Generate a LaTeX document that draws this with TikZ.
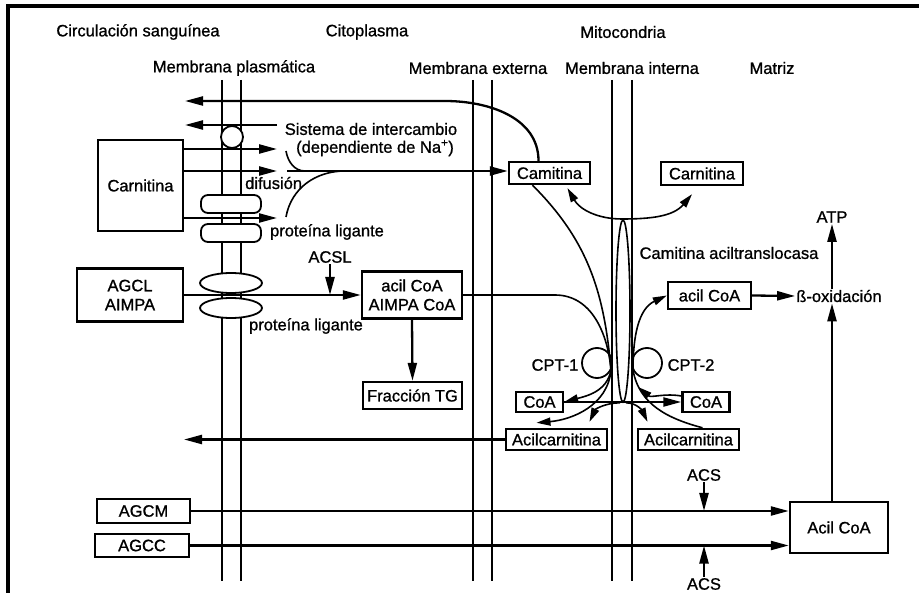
\documentclass[tikz,border=0pt]{standalone}
\usepackage{fontspec}
\setmainfont{Liberation Sans}
\usetikzlibrary{arrows.meta,shapes.geometric}
\newcommand{\figfont}{\fontsize{16.5}{19}\selectfont\addfontfeature{FakeBold=1}}

\begin{document}
\begin{tikzpicture}[x=1pt,y=-1pt,
  every node/.style={font=\figfont,inner sep=1pt},
  box/.style={draw,line width=2.4pt,fill=white,inner sep=0pt,align=center},
  mem/.style={line width=2.8pt},
  flujo/.style={line width=2.3pt,-{Triangle[length=18pt,width=9pt]}},
  fino/.style={line width=1.6pt},
  finoflecha/.style={fino,-{Triangle[length=14pt,width=8pt]}},
  finodoble/.style={fino,{Triangle[length=14pt,width=8pt]}-{Triangle[length=14pt,width=8pt]}},
  prot/.style={draw,line width=1.8pt,fill=white,rounded corners=7pt,minimum width=60pt,minimum height=18pt,inner sep=0pt},
  lig/.style={draw,ellipse,line width=1.8pt,fill=white,minimum width=62pt,minimum height=20pt,inner sep=0pt}]

  \useasboundingbox (0,0) rectangle (919,593);
  \draw[line width=3.2pt] (8,593) -- (8,6) -- (919,6);

  % compartments and membranes
  \node (circ) at (138,32) {Circulación sanguínea};
  \node (cito) at (367,32) {Citoplasma};
  \node (mito) at (623,32) {Mitocondria};
  \node (mplas) at (234,68) {Membrana plasmática};
  \node (mext) at (478,68) {Membrana externa};
  \node (mint) at (632,68) {Membrana interna};
  \node (matr) at (772,68) {Matriz};

  \foreach \x in {222,241,473,492,612,632}
    \draw[mem] (\x,80) -- (\x,581);

  % transporters
  \node[draw,circle,line width=1.8pt,fill=white,minimum size=22pt,inner sep=0pt] (exch) at (232,137) {};
  \node[prot] (pl1) at (231,204) {};
  \node[prot] (pl2) at (231,233) {};
  \node[lig] (lig1) at (231,283) {};
  \node[lig] (lig2) at (231,308) {};
  \node[draw,circle,line width=1.8pt,minimum size=30pt,inner sep=0pt] (cpt1) at (597,363) {};
  \node[draw,circle,line width=1.8pt,minimum size=30pt,inner sep=0pt] (cpt2) at (647,363) {};
  \node[draw,ellipse,line width=1.6pt,minimum width=14pt,minimum height=182pt,inner sep=0pt] (transl) at (623,311) {};

  % labels
  \node (sist) at (371,129) {Sistema de intercambio};
  \node (dep) at (375,148) {(dependiente de Na\textsuperscript{+})};
  \node[anchor=west] (difu) at (244,183) {difusión};
  \node (lig1t) at (327,232) {proteína ligante};
  \node (lig2t) at (306,326) {proteína ligante};
  \node (acsl) at (330,257) {ACSL};
  \node (translt) at (729,253) {Camitina aciltranslocasa};
  \node (atp) at (832,217) {ATP};
  \node (boxi) at (839,296) {ß-oxidación};
  \node (cpt1t) at (555,365) {CPT-1};
  \node (cpt2t) at (691,365) {CPT-2};
  \node (acs1) at (704,475) {ACS};
  \node (acs2) at (704,584) {ACS};

  % boxes
  \node[box,minimum width=85pt,minimum height=91pt] (carnS) at (140.5,185.5) {Carnitina};
  \node[box,minimum width=106pt,minimum height=53pt] (agcl) at (130,295) {AGCL\\AIMPA};
  \node[box,minimum width=100pt,minimum height=47pt] (acil) at (412,295) {acil CoA\\AIMPA CoA};
  \node[box,minimum width=99pt,minimum height=27pt] (tg) at (412.5,395.5) {Fracción TG};
  \node[box,minimum width=81pt,minimum height=22pt] (camE) at (549.5,173) {Camitina};
  \node[box,minimum width=82pt,minimum height=23pt] (carnM) at (702,173.5) {Carnitina};
  \node[box,minimum width=83pt,minimum height=27pt] (acilM) at (709.5,295.5) {acil CoA};
  \node[box,minimum width=47pt,minimum height=20pt] (coaL) at (539.5,402) {CoA};
  \node[box,minimum width=47pt,minimum height=20pt] (coaR) at (706,402) {CoA};
  \node[box,minimum width=101pt,minimum height=21pt] (acarL) at (556.5,439.5) {Acilcarnitina};
  \node[box,minimum width=101pt,minimum height=21pt] (acarR) at (688.5,439.5) {Acilcarnitina};
  \node[box,minimum width=93pt,minimum height=24pt] (agcm) at (143.5,511) {AGCM};
  \node[box,minimum width=94pt,minimum height=23pt] (agcc) at (142,545.5) {AGCC};
  \node[box,minimum width=98pt,minimum height=51pt] (acilC) at (839,527.5) {Acil CoA};

  \coordinate (outA) at (185,101);
  \coordinate (outB) at (185,125);
  \coordinate (outC) at (184,439.5);
  \coordinate (sisE) at (277,125);
  \coordinate (mrg) at (287,171);
  \coordinate (J1) at (611,370);
  \coordinate (J2) at (633,370);

  % carnitine in and out of the cell
  \draw[flujo] ([xshift=-11pt]camE.north) to[out=90,in=0] (445,101) -- (outA);
  \draw[flujo] (sisE) -- (outB);
  \foreach \y in {149,171,218}
    \draw[flujo] (carnS.east |- 0,\y) -- (277,\y);
  \draw[fino] (286,151) to[out=-80,in=180] (305,171);
  \draw[fino] (286,217) to[out=80,in=180] (345,171);
  \draw[flujo] (mrg) -- (mrg -| camE.west);

  % long chain fatty acids
  \draw[flujo] (agcl.east) -- (acil.west);
  \draw[flujo] (acsl.south) -- (acsl.south |- acil.west);
  \draw[flujo] (acil.south) -- (tg.north);
  \draw[fino] (acil.east) -- (555,295) to[out=0,in=95] (J1);
  \draw[fino] ([xshift=-17pt]camE.south) to[out=-45,in=95] (J1);
  \draw[finodoble] ([xshift=18pt,yshift=-3pt]camE.south) to[out=-60,in=180] (622,219)
    to[out=0,in=-130] ([xshift=-10pt,yshift=-8pt]carnM.south);

  % CPT-1 / CPT-2
  \draw[finoflecha] (J1) to[out=-100,in=15] (coaL.east);
  \draw[flujo] (coaL.east) -- (coaR.west);
  \draw[finoflecha] (J1) to[out=-95,in=5] ([xshift=-20pt,yshift=5pt]acarL.north);
  \draw[finoflecha] ([xshift=-3pt]transl.south) to[out=180,in=65] ([xshift=33pt,yshift=6pt]acarL.north);
  \draw[finoflecha] ([xshift=3pt]transl.south) to[out=0,in=115] ([xshift=-41pt,yshift=6pt]acarR.north);
  \draw[finoflecha] ([yshift=6pt]coaR.west) to[out=170,in=-40] ([xshift=5pt,yshift=-17pt]J2);
  \draw[fino] (J2) to[out=-80,in=165] ([xshift=14pt]acarR.north);
  \draw[finoflecha] (J2) to[out=90,in=205] (acilM.west);
  \draw[flujo] (acarL.west) -- (outC);

  % matrix
  \draw[flujo] (acilM.east) -- (boxi.west);
  \draw[flujo] (atp.south |- boxi.north) -- (atp.south);
  \draw[flujo] (acilC.north -| atp.south) -- (atp.south |- boxi.south);

  % medium and short chain
  \draw[flujo] (agcm.east) -- (agcm.east -| acilC.west);
  \draw[flujo] (agcc.east) -- (agcc.east -| acilC.west);
  \draw[flujo] (acs1.south) -- (acs1.south |- agcm.east);
  \draw[flujo] (acs2.north) -- (acs2.north |- agcc.east);

\end{tikzpicture}
\end{document}
